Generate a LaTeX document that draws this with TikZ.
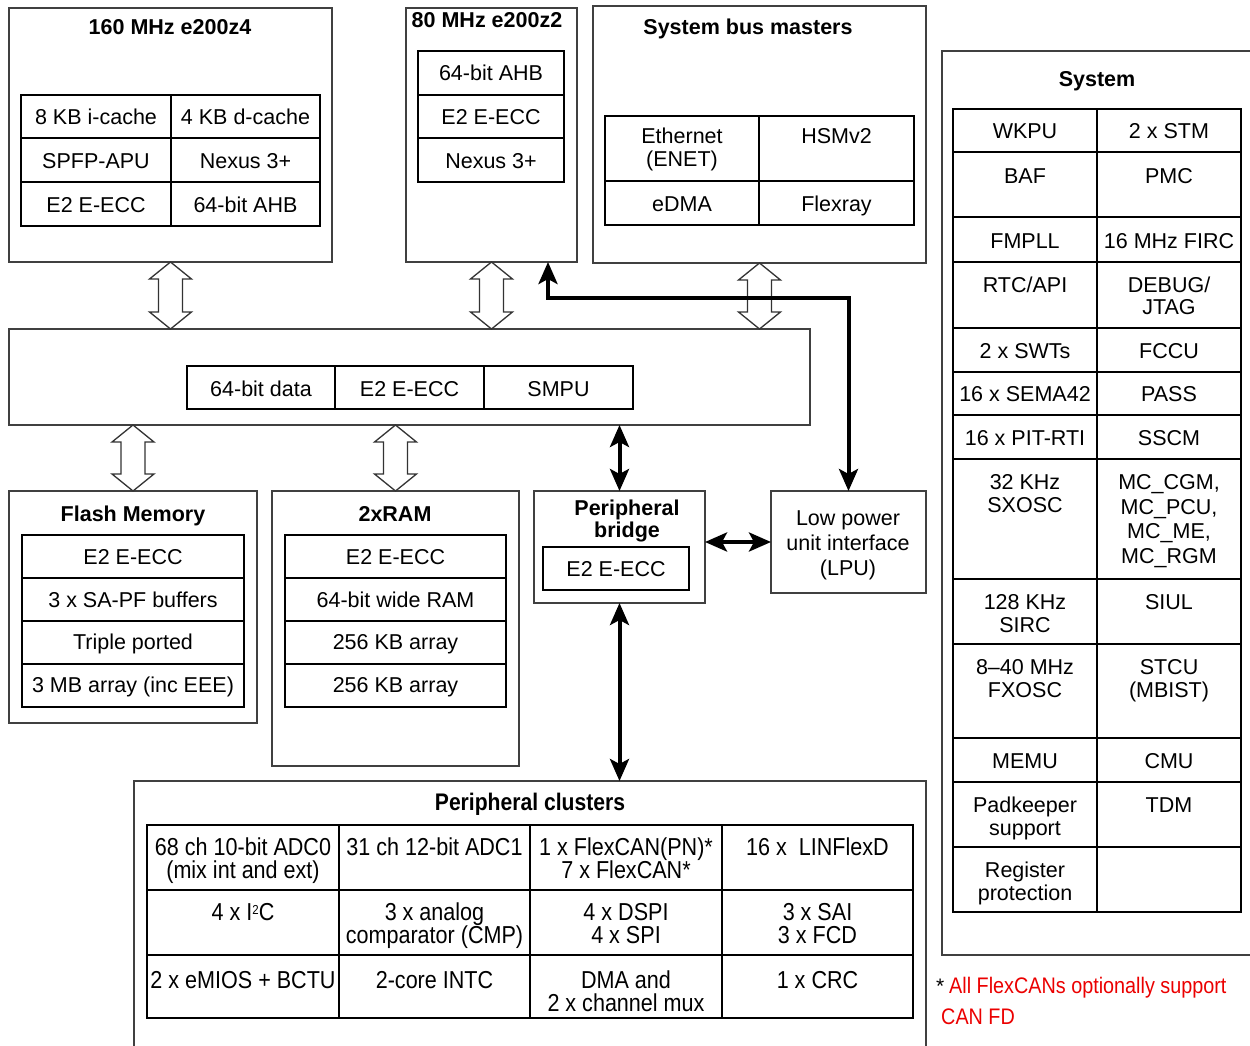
\documentclass[tikz,border=0pt]{standalone}
\usepackage{fontspec}
\setmainfont{Liberation Sans}
\newfontfamily\condfont[FakeStretch=0.88]{Liberation Sans}
\usetikzlibrary{calc,arrows.meta}
\definecolor{fnred}{RGB}{235,0,0}
\newcommand\rectnode[6]{\node[#6, anchor=north west, minimum width={(#4)-(#2)}, minimum height={(#5)-(#3)}] (#1) at (#2,#3) {};}
% #6 = baseline of the LAST text line
\newcommand\cell[7]{%
  \node[cellbox, anchor=north west, minimum width={(#4)-(#2)}, minimum height={(#5)-(#3)}] (#1) at (#2,#3) {};
  \node[txt] (#1t) at ({(#2+#4)/2},#6) {#7};}
\newcommand\hollowarr[2]{%
  \draw[hollow] (#1) -- ($(#1)+(21,17)$) -- ($(#1)+(12,17)$) -- ($(#2)+(12,-17)$) -- ($(#2)+(21,-17)$) -- (#2)
    -- ($(#2)+(-21,-17)$) -- ($(#2)+(-12,-17)$) -- ($(#1)+(-12,17)$) -- ($(#1)+(-21,17)$) -- cycle;}
\newcommand\smallsup[1]{\raisebox{6pt}{\fontsize{13}{13}\selectfont #1}}
\begin{document}
\begin{tikzpicture}[x=1pt,y=-1pt,
  outerbox/.style={draw=black!75, line width=1.3pt, inner sep=0pt, outer sep=0pt},
  cellbox/.style={draw=black, line width=1.7pt, inner sep=0pt, outer sep=0pt},
  txt/.style={anchor=base, inner sep=0pt, outer sep=0pt, align=center, font=\fontsize{21.5}{23}\selectfont},
  ttl/.style={anchor=base, inner sep=0pt, outer sep=0pt, align=center, font=\fontsize{21.5}{22}\selectfont\bfseries},
  hollow/.style={draw=black!80, line width=1.3pt, fill=white, line join=miter},
  busarrow/.style={line width=4pt, {Stealth[length=22pt,width=19pt,inset=5pt]}-{Stealth[length=22pt,width=19pt,inset=5pt]}},
]
\useasboundingbox (0,0) rectangle (1250,1046);
\clip (0,0) rectangle (1250,1046);

% ---------- core e200z4
\rectnode{core1}{9}{8}{332}{262}{outerbox}
\node[ttl] (core1title) at (170,35) {160 MHz e200z4};
\cell{c1a}{21}{95}{171}{138}{125}{8 KB i-cache}
\cell{c1b}{171}{95}{320}{138}{125}{4 KB d-cache}
\cell{c1c}{21}{138}{171}{182}{168}{SPFP-APU}
\cell{c1d}{171}{138}{320}{182}{168}{Nexus 3+}
\cell{c1e}{21}{182}{171}{226}{212}{E2 E-ECC}
\cell{c1f}{171}{182}{320}{226}{212}{64-bit AHB}

% ---------- core e200z2
\rectnode{core2}{406}{8}{577}{262}{outerbox}
\node[ttl] (core2title) at (487,28) {80 MHz e200z2};
\cell{c2a}{418}{51}{564}{95}{81}{64-bit AHB}
\cell{c2b}{418}{95}{564}{138}{125}{E2 E-ECC}
\cell{c2c}{418}{138}{564}{182}{168}{Nexus 3+}

% ---------- system bus masters
\rectnode{sbm}{593}{6}{926}{263}{outerbox}
\node[ttl] (sbmtitle) at (748,35) {System bus masters};
\cell{s1}{605}{116}{759}{181}{166}{Ethernet\\(ENET)}
\cell{s2}{759}{116}{914}{181}{143}{HSMv2}
\cell{s3}{605}{181}{759}{225}{211}{eDMA}
\cell{s4}{759}{181}{914}{225}{211}{Flexray}

% ---------- crossbar
\rectnode{bus}{9}{329}{810}{425}{outerbox}
\cell{b1}{187}{366}{335}{409}{396}{64-bit data}
\cell{b2}{335}{366}{484}{409}{396}{E2 E-ECC}
\cell{b3}{484}{366}{633}{409}{396}{SMPU}

% ---------- flash
\rectnode{flash}{9}{491}{257}{723}{outerbox}
\node[ttl] (flashtitle) at (133,521) {Flash Memory};
\cell{f1}{22}{535}{244}{578}{564}{E2 E-ECC}
\cell{f2}{22}{578}{244}{621}{607}{3 x SA-PF buffers}
\cell{f3}{22}{621}{244}{664}{649}{Triple ported}
\cell{f4}{22}{664}{244}{707}{692}{3 MB array (inc EEE)}

% ---------- RAM
\rectnode{ram}{272}{491}{519}{766}{outerbox}
\node[ttl] (ramtitle) at (395,521) {2xRAM};
\cell{r1}{285}{535}{506}{578}{564}{E2 E-ECC}
\cell{r2}{285}{578}{506}{621}{607}{64-bit wide RAM}
\cell{r3}{285}{621}{506}{664}{649}{256 KB array}
\cell{r4}{285}{664}{506}{707}{692}{256 KB array}

% ---------- peripheral bridge
\rectnode{bridge}{534}{491}{705}{603}{outerbox}
\node[ttl] (bridgetitle) at (627,537) {Peripheral\\bridge};
\cell{pb1}{543}{547}{689}{590}{576}{E2 E-ECC}

% ---------- LPU
\rectnode{lpu}{771}{491}{926}{593}{outerbox}
\node[txt, font=\fontsize{21.5}{25}\selectfont] (lputext) at (848,575) {Low power\\unit interface\\(LPU)};

% ---------- peripheral clusters
\rectnode{clus}{134}{781}{926}{1070}{outerbox}
\begin{scope}[txt/.style={anchor=base, inner sep=0pt, outer sep=0pt, align=center, font=\condfont\fontsize{24.5}{23}\selectfont}]
\node[txt, font=\condfont\fontsize{24}{23}\selectfont\bfseries] (clustitle) at (530,810) {Peripheral clusters};
\cell{p11}{147}{825}{339}{890}{878}{68 ch 10-bit ADC0\\(mix int and ext)}
\cell{p12}{339}{825}{530}{890}{855}{31 ch 12-bit ADC1}
\cell{p13}{530}{825}{722}{890}{878}{1 x FlexCAN(PN)*\\7 x FlexCAN*}
\cell{p14}{722}{825}{913}{890}{855}{16 x\ \ LINFlexD}
\cell{p21}{147}{890}{339}{955}{920}{4 x I\smallsup{2}C}
\cell{p22}{339}{890}{530}{955}{943}{3 x analog\\comparator (CMP)}
\cell{p23}{530}{890}{722}{955}{943}{4 x DSPI\\4 x SPI}
\cell{p24}{722}{890}{913}{955}{943}{3 x SAI\\3 x FCD}
\cell{p31}{147}{955}{339}{1018}{988}{2 x eMIOS + BCTU}
\cell{p32}{339}{955}{530}{1018}{988}{2-core INTC}
\cell{p33}{530}{955}{722}{1018}{1011}{DMA and\\2 x channel mux}
\cell{p34}{722}{955}{913}{1018}{988}{1 x CRC}
\end{scope}

% ---------- System
\rectnode{sys}{942}{51}{1270}{955}{outerbox}
\node[ttl] (systitle) at (1097,87) {System};
\cell{y1a}{953}{109}{1097}{152}{139}{WKPU}
\cell{y1b}{1097}{109}{1241}{152}{139}{2 x STM}
\cell{y2a}{953}{152}{1097}{217}{183}{BAF}
\cell{y2b}{1097}{152}{1241}{217}{183}{PMC}
\cell{y3a}{953}{217}{1097}{262}{248}{FMPLL}
\cell{y3b}{1097}{217}{1241}{262}{248}{16 MHz FIRC}
\cell{y4a}{953}{262}{1097}{328}{292}{RTC/API}
\cell{y4b}{1097}{262}{1241}{328}{314}{DEBUG/\\[-1pt]JTAG}
\cell{y5a}{953}{328}{1097}{372}{358}{2 x SWTs}
\cell{y5b}{1097}{328}{1241}{372}{358}{FCCU}
\cell{y6a}{953}{372}{1097}{415}{401}{16 x SEMA42}
\cell{y6b}{1097}{372}{1241}{415}{401}{PASS}
\cell{y7a}{953}{415}{1097}{459}{445}{16 x PIT-RTI}
\cell{y7b}{1097}{415}{1241}{459}{445}{SSCM}
\cell{y8a}{953}{459}{1097}{579}{512}{32 KHz\\SXOSC}
\cell{y8b}{1097}{459}{1241}{579}{563}{MC\_CGM,\\[1.5pt]MC\_PCU,\\[1.5pt]MC\_ME,\\[1.5pt]MC\_RGM}
\cell{y9a}{953}{579}{1097}{644}{632}{128 KHz\\SIRC}
\cell{y9b}{1097}{579}{1241}{644}{609}{SIUL}
\cell{y10a}{953}{644}{1097}{738}{697}{8--40 MHz\\FXOSC}
\cell{y10b}{1097}{644}{1241}{738}{697}{STCU\\(MBIST)}
\cell{y11a}{953}{738}{1097}{782}{768}{MEMU}
\cell{y11b}{1097}{738}{1241}{782}{768}{CMU}
\cell{y12a}{953}{782}{1097}{847}{835}{Padkeeper\\support}
\cell{y12b}{1097}{782}{1241}{847}{812}{TDM}
\cell{y13a}{953}{847}{1097}{912}{900}{Register\\protection}
\cell{y13b}{1097}{847}{1241}{912}{877}{}

% ---------- footnote
\node[anchor=base west, inner sep=0pt, font=\fontsize{21}{23}\selectfont] (fnstar) at (936,993) {*};
\node[anchor=base west, inner sep=0pt, text=fnred, font=\condfont\fontsize{22.5}{31}\selectfont] (fntext) at (949,993) {All FlexCANs optionally support};
\node[anchor=base west, inner sep=0pt, text=fnred, font=\condfont\fontsize{22.5}{31}\selectfont] (fntext2) at (941,1024) {CAN FD};

% ---------- hollow bus arrows
\coordinate (h1t) at (core1.south);  \coordinate (h1b) at (core1.south |- bus.north);
\coordinate (h2t) at (core2.south);  \coordinate (h2b) at (core2.south |- bus.north);
\coordinate (h3t) at (sbm.south);    \coordinate (h3b) at (sbm.south |- bus.north);
\coordinate (h4t) at (bus.south -| flash.north); \coordinate (h4b) at (flash.north);
\coordinate (h5t) at (bus.south -| ram.north);   \coordinate (h5b) at (ram.north);
\hollowarr{h1t}{h1b}
\hollowarr{h2t}{h2b}
\hollowarr{h3t}{h3b}
\hollowarr{h4t}{h4b}
\hollowarr{h5t}{h5b}

% ---------- thick connectors
\draw[busarrow] (bus.south -| bridge.north) -- (bridge.north);
\draw[busarrow] (bridge.south) -- (bridge.south |- clus.north);
\draw[busarrow] (bridge.east |- lpu.west) -- (lpu.west);
\coordinate (lpubend) at ($(lpu.north)+(0,-193)$);
\coordinate (z2port) at ($(core2.south east)+(-29,0)$);
\draw[busarrow] (lpu.north) -- (lpubend) -| (z2port);
\end{tikzpicture}
\end{document}
